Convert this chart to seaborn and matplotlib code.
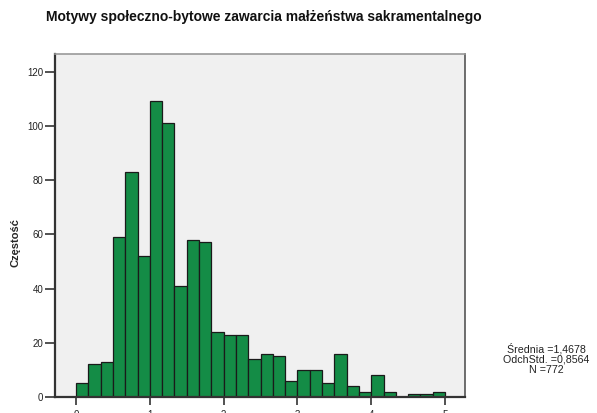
import numpy as np
import pandas as pd
import matplotlib
matplotlib.use("Agg")
import matplotlib.pyplot as plt
import seaborn as sns

# Histogram bins (width 1/6) and frequencies per bin
bin_edges = list(np.linspace(0, 5, 31))
counts = [5, 12, 13, 59, 83, 52, 109, 101, 41, 58, 57, 24, 23, 23, 14,
          16, 15, 6, 10, 10, 5, 16, 4, 2, 8, 2, 0, 1, 1, 2]
x_ticks = [0, 1, 2, 3, 4, 5]
y_ticks = [0, 20, 40, 60, 80, 100, 120]

title = "Motywy społeczno-bytowe zawarcia małżeństwa sakramentalnego"
ylabel = "Częstość"
stats_lines = ["Średnia =1,4678", "OdchStd. =0,8564", "N =772"]

sns.set_theme(style="white")
plt.rcParams["font.family"] = ["Liberation Sans", "DejaVu Sans"]

centers = [(a + b) / 2 for a, b in zip(bin_edges[:-1], bin_edges[1:])]
df = pd.DataFrame({"value": centers, "count": counts})

fig = plt.figure(figsize=(5.97, 4.13), dpi=100)
ax = fig.add_axes([55 / 597, 1 - 397 / 413, 410 / 597, 343 / 413])
ax.set_facecolor("#F0F0F0")

sns.histplot(data=df, x="value", weights="count", bins=bin_edges, ax=ax,
             color="#148C46", edgecolor="#1a1a1a", linewidth=0.9, alpha=1.0)

ax.set_xlim(-0.285, 5.27)
ax.set_ylim(0, 126.5)
ax.set_xticks(x_ticks)
ax.set_xticklabels([str(t) for t in x_ticks])
ax.set_yticks(y_ticks)
ax.tick_params(axis="both", direction="out", length=7, width=1.2,
               color="#333333", labelsize=7, labelcolor="#222222", pad=1.5,
               bottom=True, left=True)
ax.tick_params(axis="x", length=6, pad=3)
ax.set_xlabel("")
ax.set_ylabel(ylabel, fontsize=8, fontweight="bold")
ax.yaxis.set_label_coords(-0.085, 0.45)

for side in ("left", "bottom"):
    ax.spines[side].set_color("#333333")
    ax.spines[side].set_linewidth(1.6)
ax.spines["top"].set_color("#999999")
ax.spines["top"].set_linewidth(1.2)
ax.spines["right"].set_color("#555555")
ax.spines["right"].set_linewidth(1.2)

fig.text(264 / 597, 1 - 17 / 413, title, ha="center", va="center",
         fontsize=10, fontweight="bold", color="#111111")

fig.text(546 / 597, 1 - 359 / 413, "\n".join(stats_lines), ha="center",
         va="center", fontsize=7.7, color="#222222", linespacing=1.0)

fig.savefig("out.png", dpi=100)
